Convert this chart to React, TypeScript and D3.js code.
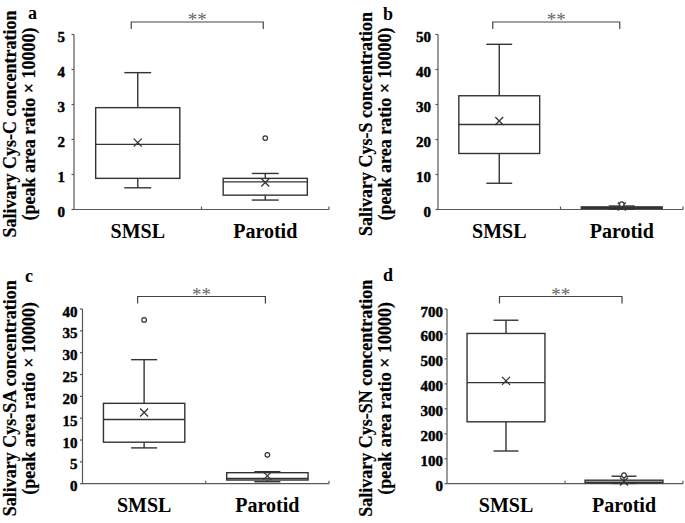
import React from "react";
import * as d3 from "d3";

const categories = ["SMSL", "Parotid"];

// box stats per group: [whiskerLow, q1, median, q3, whiskerHigh, mean]
const cysC = [
  [0.62, 0.89, 1.86, 2.91, 3.91, 1.91],
  [0.27, 0.41, 0.79, 0.89, 1.03, 0.77],
];
const cysCOutliers = [[], [2.04]];

const cysS = [
  [7.5, 16.0, 24.3, 32.5, 47.2, 25.3],
  [0.1, 0.3, 0.5, 0.75, 1.0, 0.85],
];
const cysSOutliers = [[], [1.5]];

const cysSA = [
  [8.2, 9.5, 14.7, 18.4, 28.4, 16.3],
  [0.45, 0.84, 1.2, 2.52, 2.75, 1.8],
];
const cysSAOutliers = [[37.5], [6.6]];

const cysSN = [
  [131, 248, 405, 602, 655, 412],
  [1, 2.5, 6, 14, 30, 9],
];
const cysSNOutliers = [[], [34]];

const panelLetters = ["a", "b", "c", "d"];
const titles = [
  "Salivary Cys-C concentration",
  "Salivary Cys-S concentration",
  "Salivary Cys-SA concentration",
  "Salivary Cys-SN concentration",
];
const subTitle = "(peak area ratio \u00d7 10000)";
const yMax = [5, 50, 40, 700];
const yStep = [1, 10, 5, 100];
const stars = "**";

const stats = [cysC, cysS, cysSA, cysSN];
const outliers = [cysCOutliers, cysSOutliers, cysSAOutliers, cysSNOutliers];

// layout of each panel
const layout = [
  { left: 74, right: 329, top: 34.5, bottom: 209.5, titleX: 16, tickPad: 9, lx: 28, ly: 19 },
  { left: 438, right: 683, top: 34.5, bottom: 209.5, titleX: 372, tickPad: 7, lx: 383, ly: 20 },
  { left: 82.5, right: 329, top: 309, bottom: 483.7, titleX: 16, tickPad: 5, lx: 25, ly: 282 },
  { left: 447, right: 683, top: 309, bottom: 483.7, titleX: 372, tickPad: 4, lx: 383, ly: 281 },
];

const FONT = "'Liberation Serif', 'Times New Roman', serif";
const AXIS = "#595959";
const BOX = "#333";

const Panel = ({ i }: { i: number }) => {
  const L = layout[i];
  const y = d3.scaleLinear().domain([0, yMax[i]]).range([L.bottom, L.top]);
  const x = d3.scaleBand().domain(categories).range([L.left, L.right]);
  const bw = x.bandwidth();
  const boxW = bw * 0.66;
  const capW = boxW * 0.32;
  const ticks = d3.range(0, yMax[i] + yStep[i] / 2, yStep[i]);
  const cx = (c: string) => (x(c) as number) + bw / 2;
  const bx1 = cx(categories[0]) - 6.5;
  const bx2 = cx(categories[1]) - 2;
  const by = L.top - 12.5;
  const midY = (L.top + L.bottom) / 2 + 2;

  return (
    <g>
      {/* y title */}
      <g transform={`translate(${L.titleX},${midY}) rotate(-90)`} fontFamily={FONT} fontWeight="bold" fontSize={18} textAnchor="middle" stroke="#000" strokeWidth={0.2}>
        <text x={0} y={0}>{titles[i]}</text>
        <text x={0} y={19}>{subTitle}</text>
      </g>
      <text x={L.lx} y={L.ly} fontFamily={FONT} fontWeight="bold" fontSize={18}>{panelLetters[i]}</text>

      {/* y axis */}
      <line x1={L.left} x2={L.left} y1={L.top} y2={L.bottom} stroke={AXIS} strokeWidth={1.2} />
      {ticks.map((t) => (
        <g key={t}>
          <line x1={L.left - 2.5} x2={L.left} y1={y(t)} y2={y(t)} stroke={AXIS} strokeWidth={1.2} />
          <text x={L.left - L.tickPad} y={y(t)} dy="0.5em" textAnchor="end" fontFamily={FONT} fontWeight="bold" fontSize={15} stroke="#000" strokeWidth={0.45}>
            {t}
          </text>
        </g>
      ))}

      {/* x axis */}
      <line x1={L.left} x2={L.right} y1={L.bottom} y2={L.bottom} stroke={AXIS} strokeWidth={1.2} />
      {categories.map((c) => (
        <g key={c}>
          <line x1={(x(c) as number) + bw} x2={(x(c) as number) + bw} y1={L.bottom} y2={L.bottom - 3} stroke={AXIS} strokeWidth={1.2} />
          <text x={cx(c)} y={L.bottom + 28} textAnchor="middle" fontFamily={FONT} fontWeight="bold" fontSize={20}>
            {c}
          </text>
        </g>
      ))}

      {/* boxes */}
      {categories.map((c, k) => {
        const [lo, q1, med, q3, hi, mean] = stats[i][k];
        const m = cx(c);
        return (
          <g key={c} stroke={BOX} strokeWidth={1.4} fill="none">
            <line x1={m} x2={m} y1={y(hi)} y2={y(q3)} />
            <line x1={m} x2={m} y1={y(q1)} y2={y(lo)} />
            <line x1={m - capW / 2} x2={m + capW / 2} y1={y(hi)} y2={y(hi)} />
            <line x1={m - capW / 2} x2={m + capW / 2} y1={y(lo)} y2={y(lo)} />
            <rect x={m - boxW / 2} y={y(q3)} width={boxW} height={y(q1) - y(q3)} fill="#fff" />
            <line x1={m - boxW / 2} x2={m + boxW / 2} y1={y(med)} y2={y(med)} />
            <path d={`M${m - 4},${y(mean) - 4}L${m + 4},${y(mean) + 4}M${m - 4},${y(mean) + 4}L${m + 4},${y(mean) - 4}`} strokeWidth={1.3} />
            {outliers[i][k].map((o, j) => (
              <circle key={j} cx={m} cy={y(o)} r={2.3} fill="#fff" strokeWidth={1.2} />
            ))}
          </g>
        );
      })}

      {/* significance bracket */}
      <path d={`M${bx1},${by + 7}V${by}H${bx2}V${by + 7}`} fill="none" stroke="#444" strokeWidth={1.2} />
      <text x={(bx1 + bx2) / 2} y={by + 4} textAnchor="middle" fontFamily={FONT} fontSize={19} fill="#666">
        {stars}
      </text>
    </g>
  );
};

export default function App() {
  return (
    <svg width={685} height={523} style={{ position: "absolute", left: 0, top: 0, background: "#fff" }}>
      {panelLetters.map((_, i) => (
        <Panel key={i} i={i} />
      ))}
    </svg>
  );
}
